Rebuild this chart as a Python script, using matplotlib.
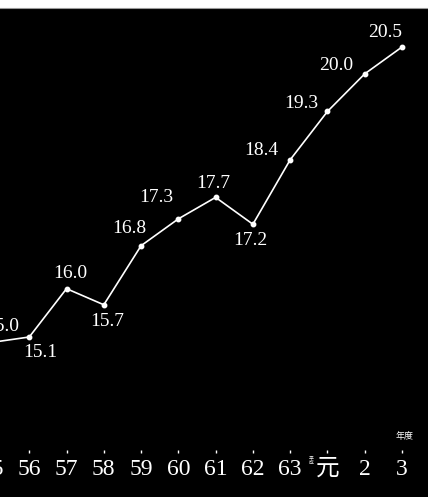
import matplotlib
matplotlib.use("Agg")
import matplotlib.pyplot as plt
from matplotlib.patches import Rectangle
from matplotlib.lines import Line2D

# ---- data ----
years = ["55", "56", "57", "58", "59", "60", "61", "62", "63", "元", "2", "3"]
values = [15.0, 15.1, 16.0, 15.7, 16.8, 17.3, 17.7, 17.2, 18.4, 19.3, 20.0, 20.5]
value_labels = ["15.0", "15.1", "16.0", "15.7", "16.8", "17.3", "17.7", "17.2",
                "18.4", "19.3", "20.0", "20.5"]

# label offsets in pixels (layout only)
offsets = [(10, 16), (11, -16), (4, 15), (3, -17), (-12, 17), (-22, 21),
           (-2, 14), (-3, -16), (-29, 9), (-26, 8), (-29, 8), (-17, 15)]

W, H = 428, 497
plt.rcParams['font.family'] = ['Liberation Serif', 'Noto Sans CJK JP']

fig = plt.figure(figsize=(W / 100, H / 100), dpi=100, facecolor='black')

# axes placement in pixels
ax_left_px, ax_right_px = -30, 458
ax_bottom_px, ax_top_px = 453, 0
ax = fig.add_axes([ax_left_px / W, 1 - ax_bottom_px / H,
                   (ax_right_px - ax_left_px) / W, (ax_bottom_px - ax_top_px) / H])
ax.set_facecolor('black')

x = list(range(len(years)))
ax.plot(x, values, color='white', lw=1.2, marker='o', markersize=3.2,
        markerfacecolor='white', markeredgecolor='white')

# x mapping: index 0 -> px -8, spacing 37.27
sp = 37.27
x0 = -8
ax.set_xlim((ax_left_px - x0) / sp, (ax_right_px - x0) / sp)
# y mapping: 15.1 -> px 337, 53.7 px per unit
ppu = 53.7
ax.set_ylim(15.1 - (ax_bottom_px - 337) / ppu, 15.1 + (337 - ax_top_px) / ppu)

for xi, v, lab, (dx, dy) in zip(x, values, value_labels, offsets):
    ax.annotate(lab, (xi, v), xytext=(dx, dy), textcoords='offset pixels',
                ha='center', va='center', color='white', fontsize=14)

for s in ax.spines.values():
    s.set_visible(False)
ax.set_yticks([])
ax.set_xticks(x)
ax.set_xticklabels(years)
ax.tick_params(axis='x', direction='in', length=2.5, width=1, color='white',
               labelcolor='white', labelsize=17, pad=4)

# small annotations
fig.text(311 / W, 1 - 461 / H, "平\n成", color='white', fontsize=3.5,
         ha='center', va='center', linespacing=0.9)
fig.text(405 / W, 1 - 436 / H, "年度", color='white', fontsize=6.5,
         ha='center', va='center')

# white strip at top
fig.add_artist(Rectangle((0, 1 - 8 / H), 1, 8 / H, transform=fig.transFigure,
                         facecolor='white', edgecolor='none'))
fig.add_artist(Line2D([0, 1], [1 - 8 / H, 1 - 8 / H], transform=fig.transFigure,
                      color='#999999', lw=0.8))

fig.savefig('out.png', dpi=100, facecolor='black')
